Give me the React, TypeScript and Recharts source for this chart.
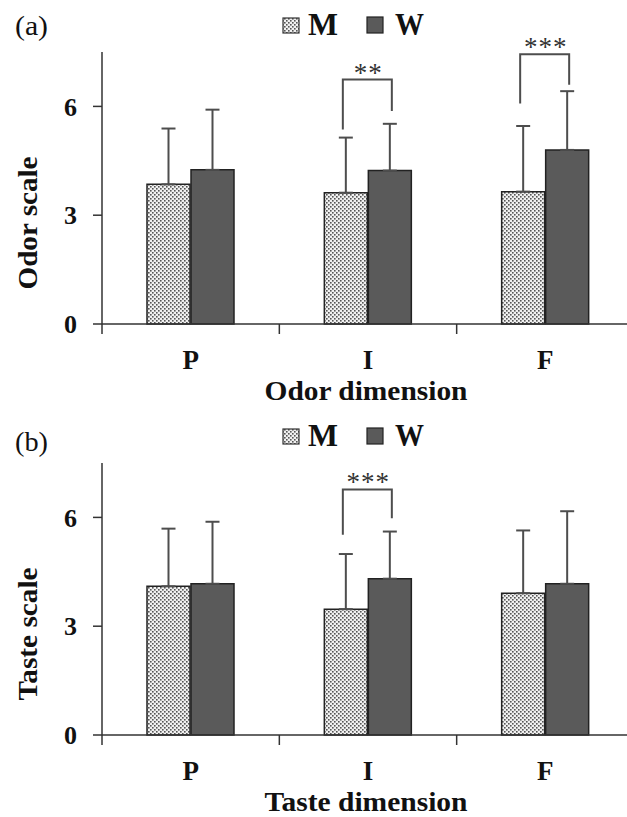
import React from 'react';
import { BarChart, Bar, XAxis, YAxis, ErrorBar, Legend, LabelList } from 'recharts';

const FONT = "'Liberation Serif','Times New Roman',Times,serif";

// ---------- data ----------
const categories = ['P', 'I', 'F'];
const yTicks = [0, 3, 6];
const seriesNames = ['M', 'W'];

const odorMenMean = [3.85, 3.62, 3.65];
const odorMenSD = [1.54, 1.52, 1.81];
const odorWomenMean = [4.25, 4.23, 4.8];
const odorWomenSD = [1.66, 1.29, 1.62];
const odorSig = ['', '**', '***'];
const odorBracketTop = [0, 6.74, 7.44];
const odorBracketLeftEnd = [0, 5.36, 6.08];
const odorBracketRightEnd = [0, 5.87, 6.6];

const tasteMenMean = [4.1, 3.47, 3.91];
const tasteMenSD = [1.59, 1.52, 1.73];
const tasteWomenMean = [4.17, 4.31, 4.17];
const tasteWomenSD = [1.71, 1.3, 2.0];
const tasteSig = ['', '***', ''];
const tasteBracketTop = [0, 6.77, 0];
const tasteBracketLeftEnd = [0, 5.52, 0];
const tasteBracketRightEnd = [0, 5.98, 0];

// ---------- layout ----------
const CHART_W = 660;
const CHART_H = 410;
const Y_AXIS_W = 102;
const MARGIN = { top: 52, right: 26, bottom: 0, left: 0 };
const X_AXIS_H = 86;
const PLOT_BOTTOM = CHART_H - MARGIN.bottom - X_AXIS_H;
const BAND = (CHART_W - MARGIN.left - MARGIN.right - Y_AXIS_W) / categories.length;
const BAR_SIZE = 43;
const BAR_GAP = 1;
const AXIS_COLOR = '#333';
const ERR_COLOR = '#4d4d4d';
const W_FILL = '#5a5a5a';

type Row = {
  cat: string; m: number; w: number; mErr: number[]; wErr: number[];
  sig: string; brTop: number; brL: number; brR: number;
};

function buildRows(mM: number[], mSD: number[], wM: number[], wSD: number[], sig: string[], top: number[], lEnd: number[], rEnd: number[]): Row[] {
  return categories.map((c, i) => ({
    cat: c, m: mM[i], w: wM[i], mErr: [0, mSD[i]], wErr: [0, wSD[i]],
    sig: sig[i], brTop: top[i], brL: lEnd[i], brR: rEnd[i],
  }));
}

const odorRows = buildRows(odorMenMean, odorMenSD, odorWomenMean, odorWomenSD, odorSig, odorBracketTop, odorBracketLeftEnd, odorBracketRightEnd);
const tasteRows = buildRows(tasteMenMean, tasteMenSD, tasteWomenMean, tasteWomenSD, tasteSig, tasteBracketTop, tasteBracketLeftEnd, tasteBracketRightEnd);

const XTick = (props: any) => {
  const { x, payload } = props;
  const bx = x - BAND / 2;
  return (
    <g>
      <line x1={bx} x2={bx} y1={PLOT_BOTTOM} y2={PLOT_BOTTOM + 10} stroke={AXIS_COLOR} strokeWidth={1.5} />
      <text x={x} y={PLOT_BOTTOM + 45} textAnchor="middle" fontFamily={FONT} fontWeight="bold" fontSize={27} fill="#111">
        {payload.value}
      </text>
    </g>
  );
};

const makeBracket = (rows: Row[]) => (props: any) => {
  const vb = props.viewBox || {};
  const x = Number(props.x ?? vb.x);
  const y = Number(props.y ?? vb.y);
  const width = Number(props.width ?? vb.width);
  const height = Number(props.height ?? vb.height);
  const row = rows[props.index];
  if (!row || !row.sig) return null;
  const base = y + height;
  const ppu = height / row.w;
  const Y = (v: number) => base - v * ppu;
  const wC = x + width / 2;
  const mC = x - BAR_GAP - width / 2;
  const xl = mC - 3;
  const xr = wC + 2;
  return (
    <g>
      <path d={`M${xl},${Y(row.brL)} V${Y(row.brTop)} H${xr} V${Y(row.brR)}`} fill="none" stroke={ERR_COLOR} strokeWidth={2} />
      <text x={(xl + xr) / 2 + 1} y={Y(row.brTop) + 2} textAnchor="middle" fontFamily={FONT} fontSize={27} letterSpacing={1} fill="#333">
        {row.sig}
      </text>
    </g>
  );
};

const LegendContent = () => (
  <svg width={170} height={45} style={{ display: 'block' }}>
    <rect x={13} y={18} width={16} height={15} fill="url(#dotPattern)" stroke="#333" strokeWidth={1.2} />
    <text x={38} y={35} fontFamily={FONT} fontWeight="bold" fontSize={31} fill="#111" textLength={30} lengthAdjust="spacingAndGlyphs">{seriesNames[0]}</text>
    <rect x={97} y={17} width={16} height={16} fill={W_FILL} stroke="#222" strokeWidth={1.2} />
    <text x={125} y={35} fontFamily={FONT} fontWeight="bold" fontSize={31} fill="#111" textLength={29} lengthAdjust="spacingAndGlyphs">{seriesNames[1]}</text>
  </svg>
);

type PanelProps = { rows: Row[]; top: number; tag: string; tagY: number; yTitle: string; xTitle: string };

const Panel = ({ rows, top, tag, tagY, yTitle, xTitle }: PanelProps) => (
  <div style={{ position: 'absolute', left: 0, top, width: CHART_W, height: CHART_H }}>
    <BarChart width={CHART_W} height={CHART_H} data={rows} margin={MARGIN} barSize={BAR_SIZE} barGap={BAR_GAP}>
      <XAxis
        dataKey="cat"
        height={X_AXIS_H}
        tickLine={false}
        tickSize={10}
        tickMargin={0}
        tick={<XTick />}
        axisLine={{ stroke: AXIS_COLOR, strokeWidth: 1.5 }}
        interval={0}
        label={() => (
          <text x={366} y={PLOT_BOTTOM + 76} textAnchor="middle" fontFamily={FONT} fontWeight="bold" fontSize={27} fill="#111" textLength={203} lengthAdjust="spacingAndGlyphs">
            {xTitle}
          </text>
        )}
      />
      <YAxis
        width={Y_AXIS_W}
        domain={[0, 7.5]}
        ticks={yTicks}
        interval={0}
        tickSize={9}
        tickMargin={16}
        axisLine={{ stroke: AXIS_COLOR, strokeWidth: 1.5 }}
        tickLine={{ stroke: AXIS_COLOR, strokeWidth: 1.5 }}
        tick={{ fontFamily: FONT, fontWeight: 'bold', fontSize: 26, fill: '#111' }}
        label={() => (
          <text x={37} y={223} transform="rotate(-90 37 223)" textAnchor="middle" fontFamily={FONT} fontWeight="bold" fontSize={28} fill="#111" textLength={133} lengthAdjust="spacingAndGlyphs">
            {yTitle}
          </text>
        )}
      />
      <Legend
        verticalAlign="middle"
        align="center"
        content={<LegendContent />}
        wrapperStyle={{ position: 'absolute', top: 0, left: 270, width: 170, height: 45 }}
      />
      <Bar dataKey="m" name={seriesNames[0]} fill="url(#dotPattern)" stroke="#222" strokeWidth={1.5} isAnimationActive={false}>
        <ErrorBar dataKey="mErr" width={7} stroke={ERR_COLOR} strokeWidth={2} isAnimationActive={false} />
      </Bar>
      <Bar dataKey="w" name={seriesNames[1]} fill={W_FILL} stroke="#222" strokeWidth={1.5} isAnimationActive={false}>
        <ErrorBar dataKey="wErr" width={7} stroke={ERR_COLOR} strokeWidth={2} isAnimationActive={false} />
        <LabelList dataKey="w" content={makeBracket(rows)} />
      </Bar>
    </BarChart>
    <svg width={60} height={50} style={{ position: 'absolute', left: 0, top: 0 }}>
      <text x={15} y={tagY} fontFamily={FONT} fontSize={27} fill="#111" textLength={33} lengthAdjust="spacingAndGlyphs">{tag}</text>
    </svg>
  </div>
);

export default function App() {
  return (
    <div style={{ position: 'absolute', left: 0, top: 0, width: 627, height: 817, overflow: 'hidden', background: '#fff' }}>
      <svg width={0} height={0} style={{ position: 'absolute' }}>
        <defs>
          <pattern id="dotPattern" width={4} height={4} patternUnits="userSpaceOnUse">
            <rect width={4} height={4} fill="#f0f0f0" />
            <rect x={0} y={0} width={1.6} height={1.6} fill="#555" />
            <rect x={2} y={2} width={1.6} height={1.6} fill="#555" />
          </pattern>
        </defs>
      </svg>
      <Panel rows={odorRows} top={0} tag="(a)" tagY={35} yTitle="Odor scale" xTitle="Odor dimension" />
      <Panel rows={tasteRows} top={411} tag="(b)" tagY={40} yTitle="Taste scale" xTitle="Taste dimension" />
    </div>
  );
}
